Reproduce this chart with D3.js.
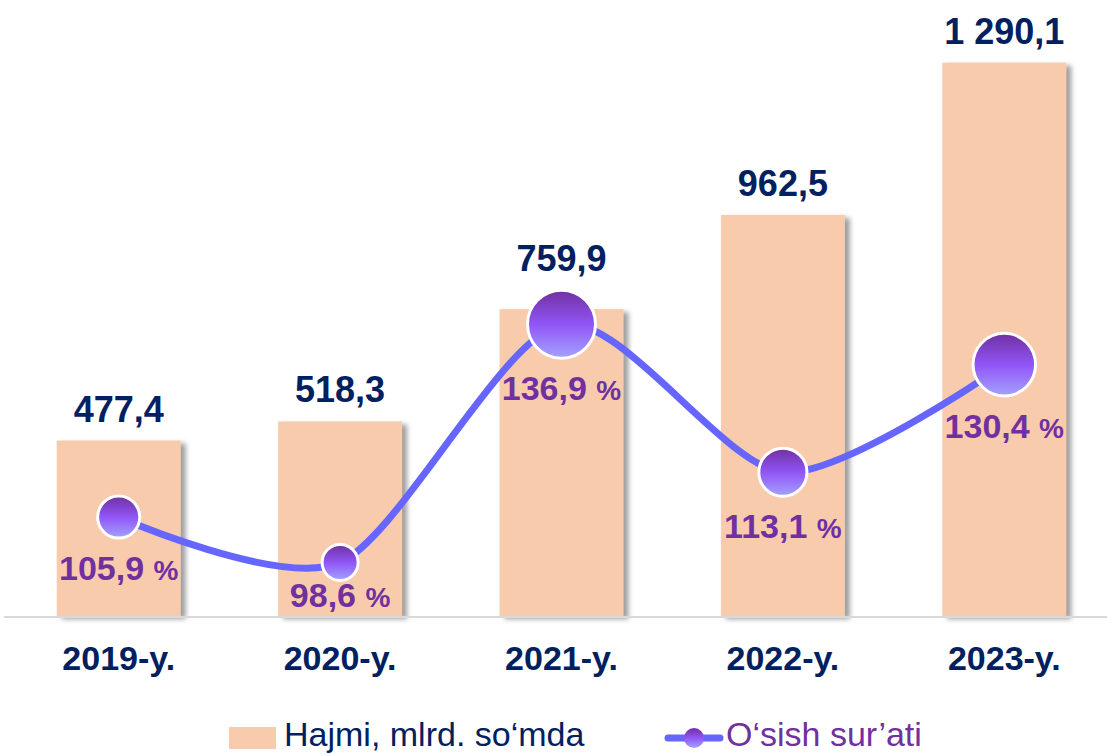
<!DOCTYPE html>
<html>
<head>
<meta charset="utf-8">
<script src="https://cdn.jsdelivr.net/npm/d3@7"></script>
<style>
    body { margin: 0; background: #fff; }
    svg { display: block; font-family: "Liberation Sans", Arial, sans-serif; }
</style>
</head>
<body>
<div id="chart"></div>
<script>
const years = ["2019-y.", "2020-y.", "2021-y.", "2022-y.", "2023-y."];
const volume = [477.4, 518.3, 759.9, 962.5, 1290.1];
const growth = [105.9, 98.6, 136.9, 113.1, 130.4];
const volumeLabels = ["477,4", "518,3", "759,9", "962,5", "1 290,1"];
const growthLabels = ["105,9", "98,6", "136,9", "113,1", "130,4"];

function drawChart() {
    const width = 1107, height = 754;
    const baseline = 616;

    const svg = d3.select("#chart")
        .append("svg")
        .attr("width", width)
        .attr("height", height);

    const defs = svg.append("defs");
    const shadow = defs.append("filter")
        .attr("id", "shadow")
        .attr("x", "-20%").attr("y", "-20%")
        .attr("width", "140%").attr("height", "140%");
    shadow.append("feDropShadow")
        .attr("dx", 5).attr("dy", 3)
        .attr("stdDeviation", 2.5)
        .attr("flood-color", "#7f7f7f")
        .attr("flood-opacity", 0.75);

    const grad = defs.append("linearGradient")
        .attr("id", "bubble")
        .attr("x1", 0).attr("y1", 0).attr("x2", 0).attr("y2", 1);
    grad.append("stop").attr("offset", "0%").attr("stop-color", "#7030a0");
    grad.append("stop").attr("offset", "50%").attr("stop-color", "#9155f7");
    grad.append("stop").attr("offset", "100%").attr("stop-color", "#a3a3ff");

    const x = d3.scaleBand()
        .domain(years)
        .range([8, 1115])
        .paddingInner(0.44)
        .paddingOuter(0.22);

    const y = d3.scaleLinear()
        .domain([100, 1300])
        .range([baseline, 58]);

    const y2 = d3.scaleLinear()
        .domain([90, 189])
        .range([baseline, 0]);

    const r = d3.scaleLinear()
        .domain(d3.extent(growth))
        .range([18, 34]);

    const cx = i => x(years[i]) + x.bandwidth() / 2;

    // bars
    svg.append("g")
        .selectAll("rect")
        .data(volume)
        .join("rect")
        .attr("x", (d, i) => x(years[i]))
        .attr("y", d => y(d))
        .attr("width", x.bandwidth())
        .attr("height", d => baseline - y(d))
        .attr("fill", "#f8cbad")
        .attr("filter", "url(#shadow)");

    // baseline
    svg.append("line")
        .attr("x1", 4).attr("x2", width)
        .attr("y1", baseline + 1).attr("y2", baseline + 1)
        .attr("stroke", "#d9d9d9")
        .attr("stroke-width", 2);

    // x axis labels
    const xAxis = svg.append("g")
        .attr("transform", `translate(0, ${baseline})`)
        .call(d3.axisBottom(x).tickSize(0).tickPadding(30));
    xAxis.select(".domain").remove();
    xAxis.selectAll("text")
        .attr("fill", "#002060")
        .style("font-size", "34px")
        .style("font-weight", "bold")
        .style("font-family", "'Liberation Sans', Arial, sans-serif");

    // value labels, lifted above the bubble when it pokes over the bar
    svg.append("g")
        .selectAll("text")
        .data(volume)
        .join("text")
        .attr("x", (d, i) => cx(i))
        .attr("y", (d, i) => Math.min(y(d), y2(growth[i]) - r(growth[i])) - 19)
        .attr("text-anchor", "middle")
        .attr("fill", "#002060")
        .style("font-size", "36px")
        .style("font-weight", "bold")
        .text((d, i) => volumeLabels[i]);

    // growth line
    const line = d3.line()
        .x((d, i) => cx(i))
        .y(d => y2(d))
        .curve(d3.curveCardinal.tension(0.2));

    svg.append("path")
        .datum(growth)
        .attr("d", line)
        .attr("fill", "none")
        .attr("stroke", "#6666ff")
        .attr("stroke-width", 7)
        .attr("stroke-linecap", "round");

    svg.append("g")
        .selectAll("circle")
        .data(growth)
        .join("circle")
        .attr("cx", (d, i) => cx(i))
        .attr("cy", d => y2(d))
        .attr("r", d => r(d))
        .attr("fill", "url(#bubble)")
        .attr("stroke", "#fff")
        .attr("stroke-width", 3);

    // growth labels (kept inside the bar, above the axis line)
    const gl = svg.append("g")
        .selectAll("text")
        .data(growth)
        .join("text")
        .attr("x", (d, i) => cx(i))
        .attr("y", d => Math.min(y2(d) + r(d) + 42, baseline - 9))
        .attr("text-anchor", "middle")
        .attr("fill", "#7030a0")
        .style("font-weight", "bold");
    gl.append("tspan")
        .style("font-size", "34px")
        .text((d, i) => growthLabels[i] + " ");
    gl.append("tspan")
        .style("font-size", "28px")
        .text("%");

    // legend
    const legend = svg.append("g");
    legend.append("rect")
        .attr("x", 229).attr("y", 727)
        .attr("width", 47).attr("height", 22)
        .attr("fill", "#f8cbad");
    legend.append("text")
        .attr("x", 284).attr("y", 746)
        .attr("fill", "#002060")
        .style("font-size", "34px")
        .text("Hajmi, mlrd. so‘mda");

    legend.append("line")
        .attr("x1", 668).attr("x2", 720)
        .attr("y1", 738).attr("y2", 738)
        .attr("stroke", "#6666ff")
        .attr("stroke-width", 7)
        .attr("stroke-linecap", "round");
    legend.append("circle")
        .attr("cx", 694).attr("cy", 738).attr("r", 10)
        .attr("fill", "url(#bubble)");
    legend.append("text")
        .attr("x", 726).attr("y", 746)
        .attr("fill", "#7030a0")
        .style("font-size", "34px")
        .text("O‘sish sur’ati");
}

drawChart();
</script>
</body>
</html>
